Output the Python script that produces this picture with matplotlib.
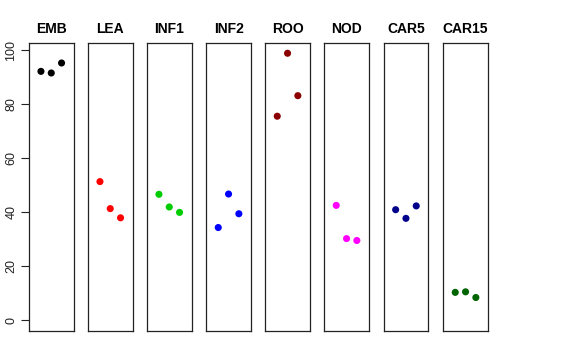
import matplotlib
matplotlib.use("Agg")
import matplotlib.pyplot as plt

plt.rcParams['font.family'] = ['Liberation Sans', 'DejaVu Sans']

# sample groups, three replicates each
groups = ["EMB", "LEA", "INF1", "INF2", "ROO", "NOD", "CAR5", "CAR15"]
colors = ["black", "#FF0000", "#00CD00", "#0000FF", "#8B0000", "#FF00FF", "#00008B", "#006400"]
emb = [92.2, 91.6, 95.3]
lea = [51.4, 41.4, 38.0]
inf1 = [46.7, 42.0, 40.0]
inf2 = [34.4, 46.8, 39.5]
roo = [75.6, 98.9, 83.2]
nod = [42.6, 30.3, 29.6]
car5 = [41.0, 37.8, 42.4]
car15 = [10.4, 10.6, 8.5]
values = [emb, lea, inf1, inf2, roo, nod, car5, car15]
reps = [1, 2, 3]
yticks = [0, 20, 40, 60, 80, 100]

W, H = 576, 360
fig = plt.figure(figsize=(W / 100, H / 100), dpi=100)

lefts = [29, 88, 147, 206.3, 265.3, 324.3, 383.7, 443.3]
pw = 44.5
top, bottom = 43, 331

for i, g in enumerate(groups):
    ax = fig.add_axes([lefts[i] / W, (H - bottom) / H, pw / W, (bottom - top) / H])
    ax.scatter(reps, values[i], s=26, color=colors[i], edgecolors='none')
    ax.set_xlim(-0.16, 4.16)
    ax.set_ylim(-3.9, 102.7)
    ax.set_xticks([])
    for s in ax.spines.values():
        s.set_linewidth(0.9)
        s.set_color("#222222")
    ax.set_title(g, fontsize=10, fontweight='bold', pad=7)
    if i == 0:
        ax.set_yticks(yticks)
        ax.set_yticklabels([str(t) for t in yticks], rotation=90, va='center', fontsize=9)
        ax.tick_params(axis='y', length=5.5, width=0.8, pad=3, colors="#222222")
    else:
        ax.set_yticks([])

fig.savefig("out.png", dpi=100)
